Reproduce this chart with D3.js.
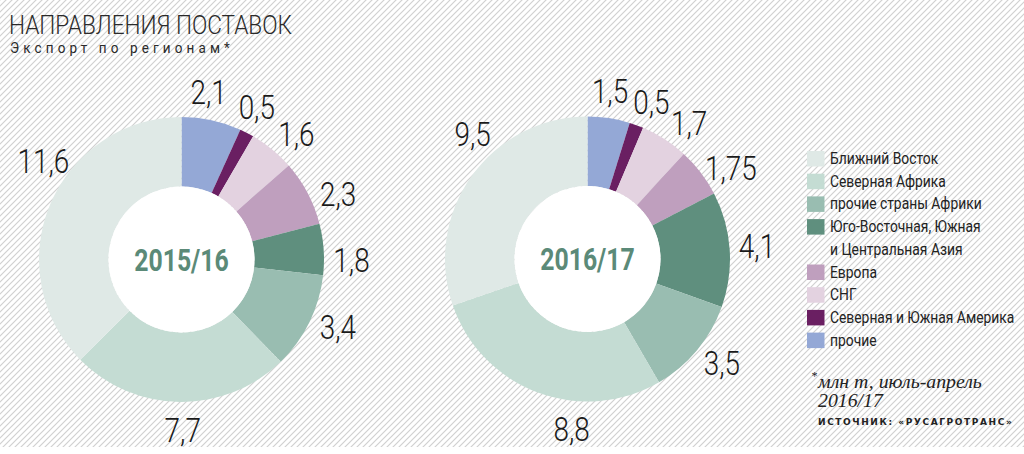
<!DOCTYPE html>
<html><head><meta charset="utf-8">
<script src="https://cdn.jsdelivr.net/npm/d3@7/dist/d3.min.js"></script>
<style>
html,body{margin:0;padding:0;background:#fff;}
svg{display:block;}
</style></head>
<body>
<svg id="chart" width="1024" height="454"></svg>
<script>
// ---- data ----
const categories = ["прочие","Северная и Южная Америка","СНГ","Европа","Юго-Восточная, Южная и Центральная Азия","прочие страны Африки","Северная Африка","Ближний Восток"];
const colors = ["#94a8d6","#6a1f62","#e3d2e0","#bf9fbe","#5f8f7e","#99bdb1","#c4dcd3","#dfe9e6"];
const values2015 = [2.1,0.5,1.6,2.3,1.8,3.4,7.7,11.6];
const labels2015 = ["2,1","0,5","1,6","2,3","1,8","3,4","7,7","11,6"];
const values2016 = [1.5,0.5,1.7,1.75,4.1,3.5,8.8,9.5];
const labels2016 = ["1,5","0,5","1,7","1,75","4,1","3,5","8,8","9,5"];
const seasons = ["2015/16","2016/17"];
// legend order (top to bottom)
const legendOrder = ["Ближний Восток","Северная Африка","прочие страны Африки","Юго-Восточная, Южная|и Центральная Азия","Европа","СНГ","Северная и Южная Америка","прочие"];
const legendColorIdx = [7,6,5,4,3,2,1,0];
// label angle nudges (degrees) – layout only
const nudge2015 = [-3,-1,3,5,4,-3,-1,13];
const nudge2016 = [-1,2,4,5,-0.5,-2,-15,12];

const svg = d3.select("#chart");
const W = 1024, H = 454;

// background stripes
const defs = svg.append("defs");
const pat = defs.append("pattern").attr("id","stripes").attr("patternUnits","userSpaceOnUse")
  .attr("width",6).attr("height",6);
pat.append("rect").attr("width",6).attr("height",6).attr("fill","#ffffff");
pat.append("path").attr("d","M-1,1 l2,-2 M0,6 l6,-6 M5,7 l2,-2").attr("stroke","#d0d0d0").attr("stroke-width",1.15);
svg.append("rect").attr("width",W).attr("height",H).attr("fill","#fff");
svg.append("rect").attr("width",W).attr("height",447).attr("fill","url(#stripes)");

function sText(parent, x, y, txt, opts){
  const g = parent.append("g").attr("transform",`translate(${x},${y}) scale(${opts.sx||1},1)`);
  const t = g.append("text").text(txt)
    .attr("font-family", opts.family || "Roboto, 'Liberation Sans', sans-serif")
    .attr("font-size", opts.size)
    .attr("font-weight", opts.weight || 400)
    .attr("fill", opts.fill || "#222")
    .attr("text-anchor", opts.anchor || "start");
  if (opts.dy) t.attr("dy", opts.dy);
  if (opts.ls) t.attr("letter-spacing", opts.ls);
  if (opts.style) t.attr("font-style", opts.style);
  return t;
}

// title
sText(svg, 9, 34, "НАПРАВЛЕНИЯ ПОСТАВОК", {size:26, weight:300, sx:0.87, fill:"#2a2a2a"});
sText(svg, 10, 53, "Экспорт по регионам*", {size:15, weight:400, sx:0.9, ls:4.6, fill:"#2a2a2a"});

const outerR = 142.5, innerR = 73, labelR = 170;
const pie = d3.pie().sort(null).value(d => d);
const arc = d3.arc().innerRadius(innerR).outerRadius(outerR);

function donut(cx, cy, values, labels, nudges, season){
  const g = svg.append("g").attr("transform",`translate(${cx},${cy})`);
  const arcs = pie(values);
  g.selectAll("path.slice").data(arcs).join("path").attr("class","slice")
    .attr("d", arc).attr("fill",(d,i)=>colors[i]);
  g.append("circle").attr("r", innerR).attr("fill","#fff");
  arcs.forEach((a,i)=>{
    const ang = (a.startAngle + a.endAngle)/2 + nudges[i]*Math.PI/180;
    const x = labelR*Math.sin(ang), y = -labelR*Math.cos(ang);
    sText(g, x, y, labels[i], {size:34, weight:300, sx:0.82, anchor:"middle", dy:"0.36em", fill:"#1a1a1a"});
  });
  sText(g, 0, 0, season, {size:31, weight:700, sx:0.8, anchor:"middle", dy:"0.36em", fill:"#5b8a78"});
}
donut(181.5, 259.5, values2015, labels2015, nudge2015, seasons[0]);
donut(587.5, 259, values2016, labels2016, nudge2016, seasons[1]);

// legend
const lg = svg.append("g");
let row = 0;
legendOrder.forEach((name,i)=>{
  const y0 = 151 + row*22.7;
  lg.append("rect").attr("x",807).attr("y",y0).attr("width",17.5).attr("height",15.5).attr("fill",colors[legendColorIdx[i]]);
  name.split("|").forEach((line,j)=>{
    sText(lg, 830, y0 + 13 + j*22.7, line, {size:16.5, weight:400, sx:0.84, fill:"#222"});
  });
  row += name.split("|").length;
});

// footnote
const serif = "'Liberation Serif','DejaVu Serif',serif";
sText(svg, 811, 380, "*", {size:12, family:serif, style:"italic", fill:"#222"});
sText(svg, 818, 388, "млн т, июль-апрель", {size:18, family:serif, style:"italic", fill:"#222", sx:1.1});
sText(svg, 818, 407, "2016/17", {size:18, family:serif, style:"italic", fill:"#222", sx:1.1});
sText(svg, 818, 425, "ИСТОЧНИК: «РУСАГРОТРАНС»", {size:9, weight:700, family:"'DejaVu Sans',sans-serif", ls:1.6, fill:"#222"});
</script>
</body></html>
